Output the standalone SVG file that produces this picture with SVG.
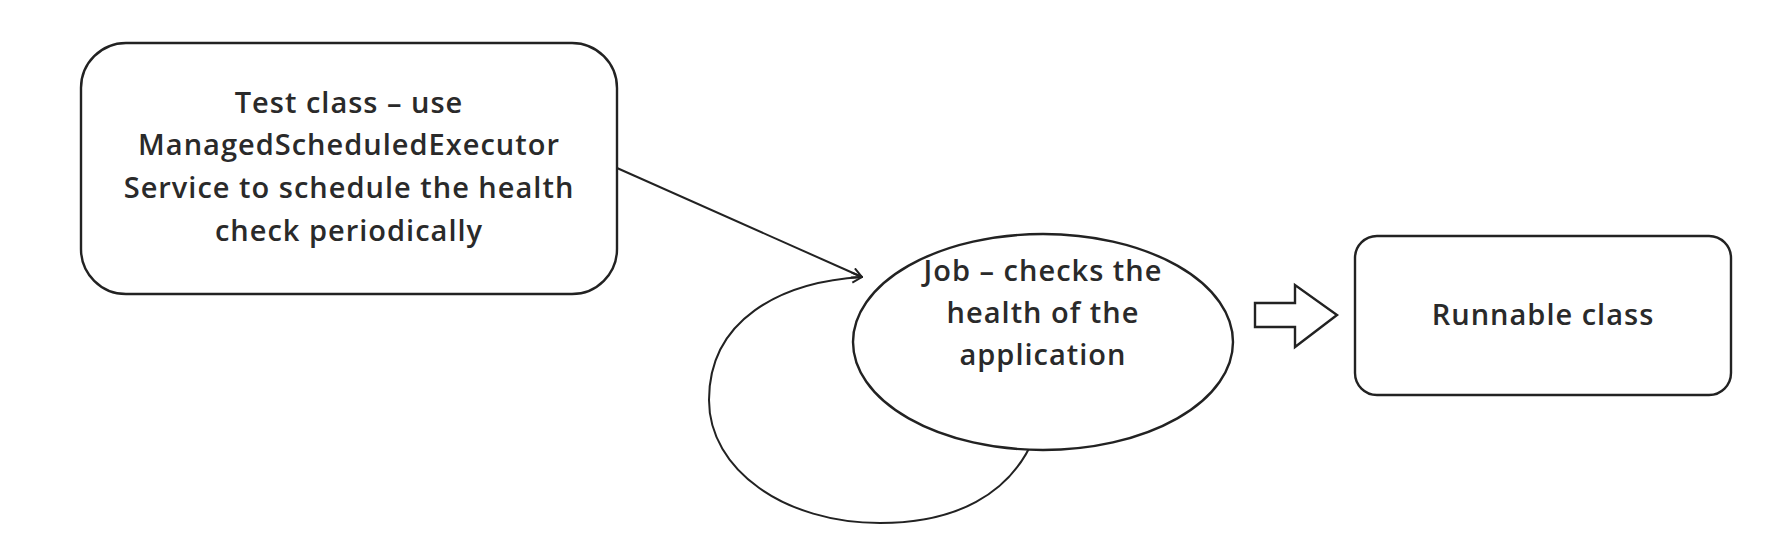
<svg xmlns="http://www.w3.org/2000/svg" width="1774" height="536" viewBox="0 0 1774 536">
  <defs>
    <marker id="open" viewBox="0 0 12 12" refX="11" refY="6" markerWidth="12" markerHeight="12" markerUnits="userSpaceOnUse" orient="auto">
      <path d="M1,1 L11,6 L1,11" fill="none" stroke="#222" stroke-width="2"/>
    </marker>
    <style>
      .shape { fill: #fff; stroke: #222; stroke-width: 2.4; }
      .conn { fill: none; stroke: #222; stroke-width: 2; }
      .label { font-family: "Open Sans", "Noto Sans", "Liberation Sans", sans-serif; font-size: 29px; font-weight: 600; letter-spacing: 1px; fill: #2a2a2a; text-anchor: middle; }
    </style>
  </defs>
  <rect width="1774" height="536" fill="#fff"/>

  <g id="connectors">
    <path class="conn" d="M1034,438 C1010,495 955,523 880,523 C785,523 709,470 709,400 C709,320 780,282 862,277" marker-end="url(#open)"/>
    <line class="conn" x1="617" y1="168" x2="862" y2="277" marker-end="url(#open)"/>
    <path class="shape" d="M1255,303 L1295,303 L1295,285 L1337,315 L1295,347 L1295,327 L1255,327 Z"/>
  </g>

  <g id="test-class">
    <rect class="shape" x="81" y="43" width="536" height="251" rx="45" ry="45"/>
    <text class="label" x="349" y="113">Test class – use</text>
    <text class="label" x="349" y="155">ManagedScheduledExecutor</text>
    <text class="label" x="349" y="198">Service to schedule the health</text>
    <text class="label" x="349" y="241">check periodically</text>
  </g>

  <g id="job">
    <ellipse class="shape" cx="1043" cy="342" rx="190" ry="108"/>
    <text class="label" x="1043" y="281">Job – checks the</text>
    <text class="label" x="1043" y="323">health of the</text>
    <text class="label" x="1043" y="365">application</text>
  </g>

  <g id="runnable">
    <rect class="shape" x="1355" y="236" width="376" height="159" rx="22" ry="22"/>
    <text class="label" x="1543" y="325">Runnable class</text>
  </g>
</svg>
